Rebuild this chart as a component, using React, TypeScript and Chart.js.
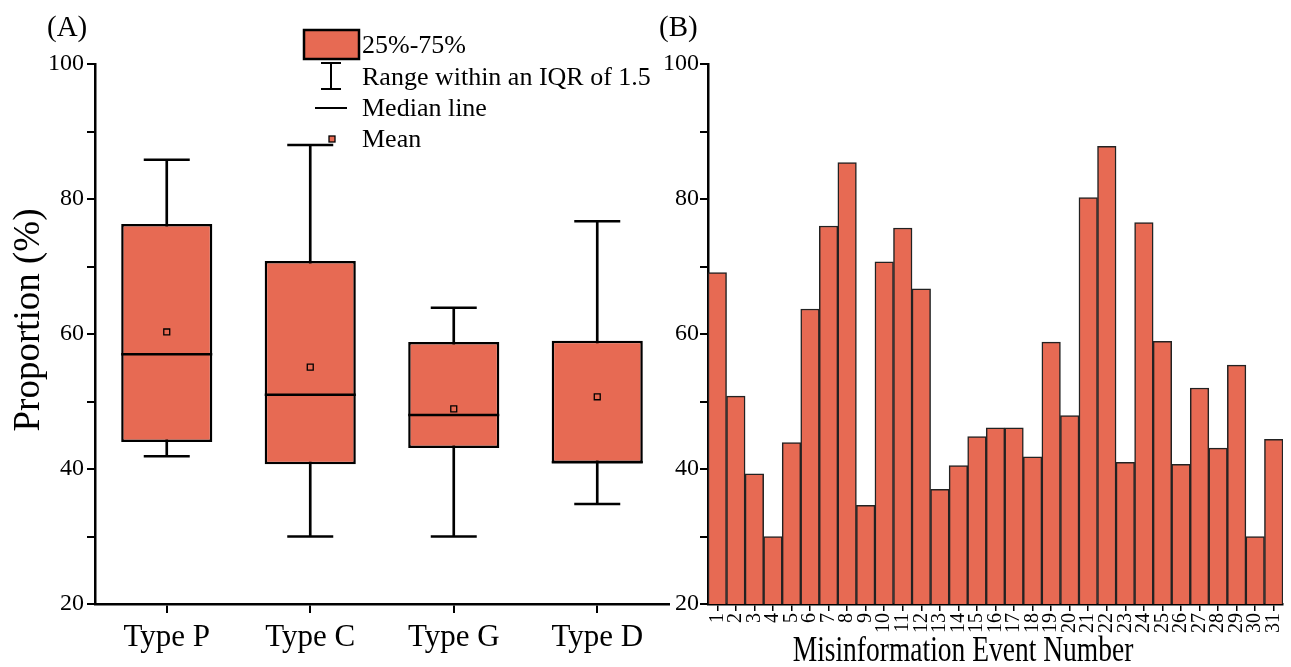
import React, { useEffect, useRef } from 'react';
import { Chart, registerables } from 'chart.js';

Chart.register(...registerables);

// ---------- data ----------
const boxCategories = ['Type P', 'Type C', 'Type G', 'Type D'];
const boxQ1 = [44.0, 40.7, 43.1, 40.9];
const boxQ3 = [76.3, 70.8, 58.8, 59.0];
const boxMedian = [57.0, 51.0, 48.0, 41.0];
const boxMean = [60.3, 55.1, 48.9, 50.7];
const whiskerLow = [41.9, 30.0, 30.0, 34.8];
const whiskerHigh = [85.8, 88.0, 63.9, 76.7];

const eventNumbers = ['1', '2', '3', '4', '5', '6', '7', '8', '9', '10', '11', '12', '13', '14', '15', '16',
  '17', '18', '19', '20', '21', '22', '23', '24', '25', '26', '27', '28', '29', '30', '31'];
const eventProportion = [69.1, 50.8, 39.3, 30.0, 43.9, 63.7, 76.0, 85.4, 34.6, 70.7, 75.7, 66.7, 37.0, 40.5,
  44.8, 46.1, 46.1, 41.8, 58.8, 47.9, 80.2, 87.8, 41.0, 76.5, 58.9, 40.7, 52.0, 43.1, 55.4, 30.0, 44.4];

const yMin = 20;
const yMax = 100;
const yStep = 10;

const legendLabels = ['25%-75%', 'Range within an IQR of 1.5', 'Median line', 'Mean'];
const panelLabels = ['(A)', '(B)'];
const yTitle = 'Proportion (%)';
const xTitleB = 'Misinformation Event Number';

// ---------- styles ----------
const FILL = '#E76A53';
const SERIF = '"Liberation Serif", "Times New Roman", serif';

const yTicksCallback = (v: any) => (Number(v) % 20 === 0 ? String(v) : '');

function yScale(width: number, pad: number) {
  return {
    min: yMin,
    max: yMax,
    afterFit: (s: any) => { s.width = width; s.paddingTop = 0; s.paddingBottom = 0; },
    ticks: { stepSize: yStep, callback: yTicksCallback, color: '#000', font: { family: SERIF, size: 24 }, padding: pad, autoSkip: false },
    grid: { display: true, drawOnChartArea: false, drawTicks: true, tickLength: 8, color: '#000', lineWidth: 2 },
    border: { display: true, color: '#000', width: 2.5 },
  };
}

const fitX = (s: any) => { s.height = 63; s.paddingLeft = 0; s.paddingRight = 0; };

const leftDecor = {
  id: 'leftDecor',
  afterDraw(chart: any) {
    const ctx = chart.ctx;
    ctx.save();
    // panel label
    ctx.fillStyle = '#000';
    ctx.font = `29px ${SERIF}`;
    ctx.textBaseline = 'middle';
    ctx.textAlign = 'left';
    ctx.fillText(panelLabels[0], 47, 28);
    // y title
    ctx.save();
    ctx.translate(29, 320);
    ctx.rotate(-Math.PI / 2);
    ctx.textAlign = 'center';
    ctx.font = `37px ${SERIF}`;
    ctx.fillText(yTitle, 0, 0);
    ctx.restore();
    // legend
    ctx.fillStyle = FILL;
    ctx.fillRect(304, 30, 55, 29);
    ctx.strokeStyle = '#000';
    ctx.lineWidth = 2.5;
    ctx.strokeRect(304, 30, 55, 29);
    ctx.lineWidth = 2;
    ctx.beginPath();
    ctx.moveTo(331, 63); ctx.lineTo(331, 89);
    ctx.moveTo(321, 63); ctx.lineTo(341, 63);
    ctx.moveTo(321, 89); ctx.lineTo(341, 89);
    ctx.moveTo(315, 108); ctx.lineTo(347, 108);
    ctx.stroke();
    ctx.fillStyle = FILL;
    ctx.fillRect(329, 136, 6, 6);
    ctx.lineWidth = 1.3;
    ctx.strokeRect(329, 136, 6, 6);
    ctx.fillStyle = '#000';
    ctx.font = `26px ${SERIF}`;
    const ys = [46, 78, 109, 140];
    legendLabels.forEach((t, i) => ctx.fillText(t, 362, ys[i]));
    ctx.restore();
  },
};

const rightDecor = {
  id: 'rightDecor',
  afterDraw(chart: any) {
    const ctx = chart.ctx;
    ctx.save();
    ctx.fillStyle = '#000';
    ctx.font = `29px ${SERIF}`;
    ctx.textBaseline = 'middle';
    ctx.textAlign = 'left';
    ctx.fillText(panelLabels[1], 19, 28);
    // x title (slightly tall lettering as in the source figure)
    ctx.save();
    ctx.translate(323, 652);
    ctx.scale(1, 1.3);
    ctx.textAlign = 'center';
    ctx.font = `27.5px ${SERIF}`;
    ctx.fillText(xTitleB, 0, 0);
    ctx.restore();
    ctx.restore();
  },
};

export default function App() {
  const leftRef = useRef<HTMLCanvasElement>(null);
  const rightRef = useRef<HTMLCanvasElement>(null);

  useEffect(() => {
    const boxes = boxQ1.map((q, i) => [q, boxQ3[i]]);
    const whiskers = whiskerLow.map((w, i) => [w, whiskerHigh[i]]);
    const left = new Chart(leftRef.current as HTMLCanvasElement, {
      type: 'bar',
      data: {
        labels: boxCategories,
        datasets: [
          { type: 'bar', data: whiskers as any, backgroundColor: '#000', borderWidth: 0, barThickness: 2, grouped: false, order: 5 } as any,
          { type: 'bar', data: boxes as any, backgroundColor: FILL, borderColor: '#000', borderWidth: 2.5, borderSkipped: false,
            barPercentage: 0.635, categoryPercentage: 1, grouped: false, order: 4 } as any,
          { type: 'line', data: whiskerHigh, showLine: false, pointStyle: 'line', pointRadius: 23, pointBorderWidth: 2.5,
            pointBorderColor: '#000', clip: false, order: 3 } as any,
          { type: 'line', data: whiskerLow, showLine: false, pointStyle: 'line', pointRadius: 23, pointBorderWidth: 2.5,
            pointBorderColor: '#000', clip: false, order: 3 } as any,
          { type: 'line', data: boxMedian, showLine: false, pointStyle: 'line', pointRadius: 45.5, pointBorderWidth: 2.5,
            pointBorderColor: '#000', clip: false, order: 2 } as any,
          { type: 'line', data: boxMean, showLine: false, pointStyle: 'rect', pointRadius: 4.2, pointBorderWidth: 1.3,
            pointBorderColor: '#000', pointBackgroundColor: FILL, clip: false, order: 1 } as any,
        ],
      },
      options: {
        animation: false,
        responsive: false,
        events: [],
        layout: { autoPadding: false, padding: { top: 64, right: 3, left: 0, bottom: 0 } },
        plugins: { legend: { display: false }, tooltip: { enabled: false }, title: { display: false } },
        scales: {
          x: {
            offset: true,
            afterFit: fitX,
            ticks: { color: '#000', font: { family: SERIF, size: 31 }, padding: 6, maxRotation: 0 },
            grid: { display: true, offset: false, drawOnChartArea: false, drawTicks: true, tickLength: 9, color: '#000', lineWidth: 2 },
            border: { display: true, color: '#000', width: 2.5 },
          },
          y: yScale(95, 3) as any,
        },
      },
      plugins: [leftDecor],
    });

    const right = new Chart(rightRef.current as HTMLCanvasElement, {
      type: 'bar',
      data: {
        labels: eventNumbers,
        datasets: [
          { data: eventProportion, backgroundColor: FILL, borderColor: '#222', borderWidth: 1.5, borderSkipped: false,
            barPercentage: 1, categoryPercentage: 1 } as any,
        ],
      },
      options: {
        animation: false,
        responsive: false,
        events: [],
        layout: { autoPadding: false, padding: { top: 64, right: 8, left: 0, bottom: 0 } },
        plugins: { legend: { display: false }, tooltip: { enabled: false } },
        scales: {
          x: {
            offset: true,
            afterFit: fitX,
            ticks: { color: '#000', font: { family: SERIF, size: 20 }, padding: 2, minRotation: 90, maxRotation: 90, autoSkip: false },
            grid: { display: true, offset: false, drawOnChartArea: false, drawTicks: true, tickLength: 7, color: '#000', lineWidth: 1.5 },
            border: { display: true, color: '#000', width: 2.5 },
          },
          y: yScale(68, 1) as any,
        },
      },
      plugins: [rightDecor],
    });

    return () => { left.destroy(); right.destroy(); };
  }, []);

  return (
    <div style={{ position: 'fixed', left: 0, top: 0, width: 1291, height: 667, background: '#fff', overflow: 'hidden' }}>
      <canvas ref={leftRef} width={672} height={667} style={{ position: 'absolute', left: 0, top: 0, width: 672, height: 667 }} />
      <canvas ref={rightRef} width={651} height={667} style={{ position: 'absolute', left: 640, top: 0, width: 651, height: 667 }} />
    </div>
  );
}
